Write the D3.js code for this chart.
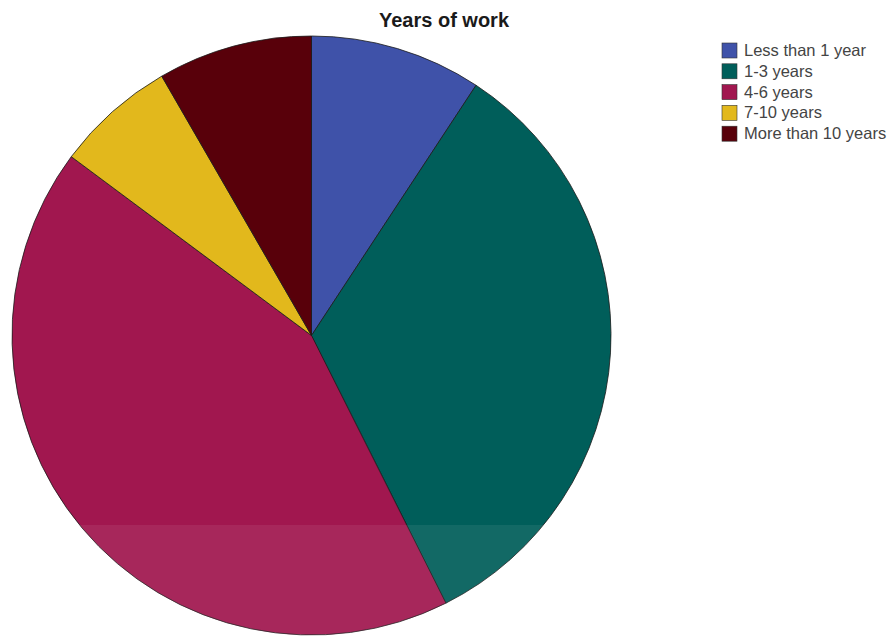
<!DOCTYPE html>
<html><head><meta charset="utf-8">
<script src="https://cdn.jsdelivr.net/npm/d3@7"></script>
<style>body{margin:0;background:#fff}svg{display:block}</style>
</head><body>
<script>
const categories = ["Less than 1 year","1-3 years","4-6 years","7-10 years","More than 10 years"];
const values = [10,36,46,7,9];
const colors = ["#3f52a9","#005e5a","#a1174f","#e2b81c","#58000a"];
const title = "Years of work";

const W=893,H=636;
const svg=d3.select("body").append("svg").attr("width",W).attr("height",H);
const cx=311.5, cy=335.5, r=299.5;
const pie=d3.pie().sort(null).value(d=>d)(values);
const arc=d3.arc().innerRadius(0).outerRadius(r);
const g=svg.append("g").attr("transform",`translate(${cx},${cy})`);
g.selectAll("path").data(pie).join("path")
 .attr("d",arc).attr("fill",(d,i)=>colors[i])
 .attr("stroke","#1a1a1a").attr("stroke-width",0.8).attr("stroke-linejoin","round");

svg.append("text").attr("x",444).attr("y",27).attr("text-anchor","middle")
 .attr("font-family","Liberation Sans, Arial, sans-serif").attr("font-weight","bold")
 .attr("font-size",20).attr("fill","#1a1a1a").text(title);

const lg=svg.append("g").attr("transform","translate(722,43)");
const row=lg.selectAll("g").data(categories).join("g").attr("transform",(d,i)=>`translate(0,${i*20.8})`);
row.append("rect").attr("width",15).attr("height",15).attr("fill",(d,i)=>colors[i]).attr("stroke","#333").attr("stroke-width",0.6);
row.append("text").attr("x",22).attr("y",13).attr("font-family","Liberation Sans, Arial, sans-serif")
 .attr("font-size",16.5).attr("fill","#444").text(d=>d);

// faint watermark band
svg.append("rect").attr("x",45).attr("y",525).attr("width",795).attr("height",111).attr("fill","#fff").attr("opacity",0.07);
</script>
</body></html>
